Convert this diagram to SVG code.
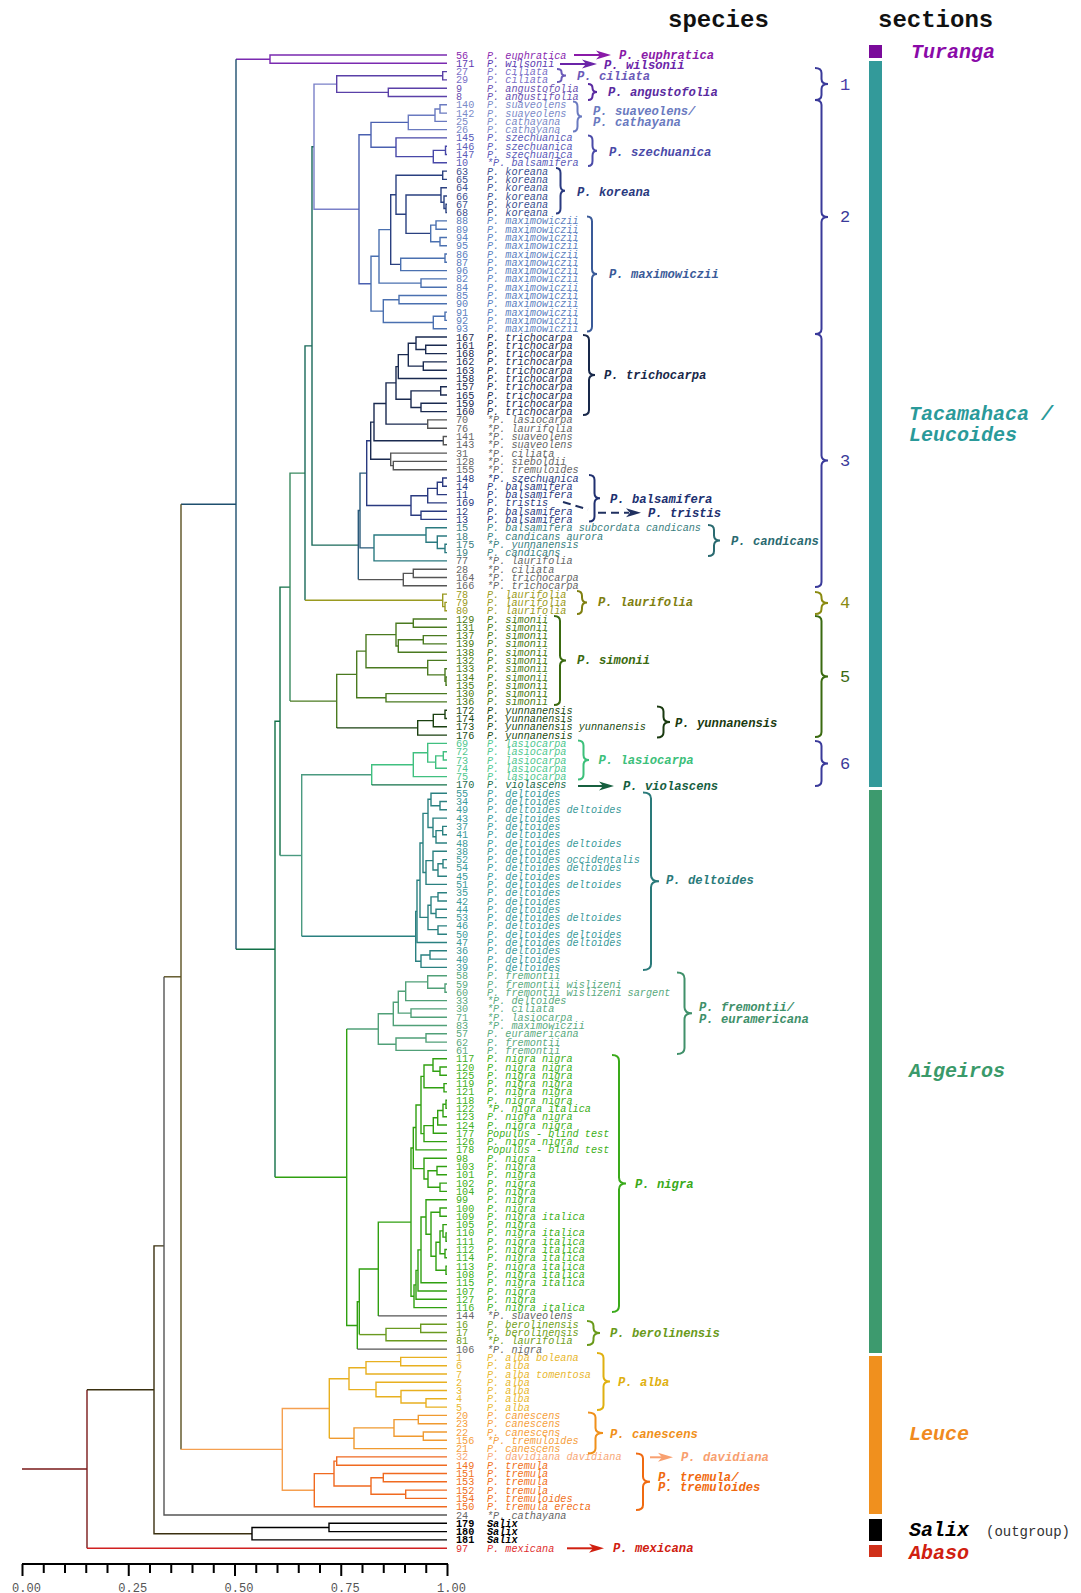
<svg xmlns="http://www.w3.org/2000/svg" width="1081" height="1593" viewBox="0 0 1081 1593">
<style>
.tree path{fill:none;stroke-width:1.4}
.k-pur{stroke:#7a2ab0}.k-vio{stroke:#5a40a8}.k-lav{stroke:#6a7ac0}.k-lm{stroke:#7a80c8}.k-blu{stroke:#4a60b0}.k-sze{stroke:#4848a8}
.k-kor{stroke:#2a4080}.k-max{stroke:#4a70b0}.k-nav{stroke:#1a2a50}.k-bal{stroke:#2a3a80}.k-gry{stroke:#555}.k-cnd{stroke:#2a7a80}
.k-tea{stroke:#1a6a5a}.k-olv{stroke:#9a9a20}.k-sim{stroke:#4a7a20}.k-yun{stroke:#1a4010}.k-las{stroke:#40c080}.k-lv2{stroke:#4a9a80}
.k-del{stroke:#2a8080}.k-fre{stroke:#50a078}.k-nig{stroke:#30a010}.k-ber{stroke:#6a9a20}.k-alb{stroke:#e8b020}.k-can{stroke:#f09a30}
.k-tre{stroke:#f06a20}.k-org{stroke:#f5a050}.k-blk{stroke:#000}.k-red{stroke:#d02020}.k-drd{stroke:#7a1a1a}.k-dol{stroke:#5a5020}
.k-dk{stroke:#3a3010}.k-tb{stroke:#1e4f6e}.k-grn{stroke:#127048}.k-sg{stroke:#3a8a60}.k-bt{stroke:#2a5a7a}
.lab text{font-family:"Liberation Mono",monospace;font-size:10.2px;font-style:italic}
.lab .n{font-style:normal}
.a1{fill:#8a2ab0}.a2{fill:#5a3ab0}.a3{fill:#7a70c8}.a4{fill:#6a50b0}.a5{fill:#7a8ac8}.a6{fill:#5a5ab8}.a7{fill:#3a5090}.a8{fill:#5a80c0}.a9{fill:#1a2a50}
.gy{fill:#666}.b1{fill:#2a3a80}.b2{fill:#3a8080}.b3{fill:#9a9a20}.b4{fill:#4a7a10}.b5{fill:#1a4a10}.b6{fill:#50c890}.b7{fill:#1a6a4a}.b8{fill:#3a9a9a}.b9{fill:#5aaa80}
.c1{fill:#40b020}.c2{fill:#70a020}.c3{fill:#e8b830}.c4{fill:#f5a040}.c5{fill:#f8a878}.c6{fill:#f07020}.c7{fill:#000;font-weight:bold}.c8{fill:#e03030}
.sp text{font-family:"Liberation Mono",monospace;font-size:12.2px;font-weight:bold;font-style:italic}
.br{fill:none;stroke-width:2}
.arr line,.arr path{stroke-width:2;fill:none}
.sec{font-family:"Liberation Mono",monospace;font-size:20px;font-weight:bold;font-style:italic}
.hd{font-family:"Liberation Mono",monospace;font-size:24px;font-weight:bold;fill:#111}
.gn{font-family:"Liberation Mono",monospace;font-size:17px}
.ax{font-family:"Liberation Mono",monospace;font-size:12px;fill:#555;text-anchor:middle}
</style>
<rect width="1081" height="1593" fill="#fff"/>

<g id="headers">
<text class="hd" x="668" y="27">species</text>
<text class="hd" x="878" y="27">sections</text>
</g>

<g id="connectors" class="tree">
<path class="k-drd" d="M22,1469 H87 M87,1389.8 V1548.2"/>
<path class="k-red" d="M87,1548.2 H447"/>
<path class="k-dk" d="M154,1389.8 H87"/>
<path class="k-dk" d="M164,1245.9 H154 V1533.7 H252"/>
<path class="k-blk" d="M329,1527.5 H252 V1539.9 H447"/>
<path class="k-blk" d="M447,1523.3 H329 V1531.6 H447"/>
<path class="k-dol" d="M181,976.8 H164"/>
<path class="k-gry" d="M164,976.8 V1515 H447"/>
<path class="k-tb" d="M236,504.2 H181"/>
<path class="k-dol" d="M181,504.2 V1449.4"/>
<path class="k-org" d="M181,1449.4 H282.3"/>
<path class="k-pur" d="M270,59.2 H236"/>
<path class="k-tb" d="M236,59.2 V949.3"/>
<path class="k-grn" d="M236,949.3 H275"/>
<path class="k-pur" d="M447,55 H270 V63.3 H447"/>
<path class="k-grn" d="M280,721.3 H275 V1177.2"/>
<path class="k-nig" d="M275,1177.2 H346.7"/>
<path class="k-grn" d="M290,587.1 H280 V855.5"/>
<path class="k-lv2" d="M280,855.5 H301.7"/>
<path class="k-sg" d="M305,473.1 H290 V701.1"/>
<path class="k-sim" d="M290,701.1 H336.7"/>
<path class="k-tea" d="M312,345.9 H305 V600.3"/>
<path class="k-olv" d="M305,600.3 H442.7"/>
<path class="k-tea" d="M314,146.7 H312 V545.1 H358.3"/>
<path class="k-lm" d="M336.7,84.1 H314 V209.3 H359"/>
<path class="k-vio" d="M442.7,75.8 H336.7 V92.4 H388.3"/>
<path class="k-vio" d="M447,71.6 H442.7 V79.9 H447"/>
<path class="k-vio" d="M447,88.2 H388.3 V96.5 H447"/>
<path class="k-blu" d="M371,134.8 H359 V283.7 H371"/>
<path class="k-blu" d="M408.3,122.4 H371 V147.3 H396"/>
<path class="k-lav" d="M435,115.2 H408.3 V129.6 H447"/>
<path class="k-lav" d="M440,109 H435 V121.4 H447"/>
<path class="k-lav" d="M447,104.8 H440 V113.1 H447"/>
<path class="k-sze" d="M447,137.9 H396 V156.6 H433.3"/>
<path class="k-sze" d="M445.5,150.4 H433.3 V162.8 H447"/>
<path class="k-sze" d="M447,146.2 H445.5 V154.5 H447"/>
<path class="k-max" d="M379,256.3 H371 V311.1 H383.3"/>
<path class="k-max" d="M390.7,229.6 H379 V283.1 H421"/>
<path class="k-max" d="M447,278.9 H421 V287.2 H447"/>
<path class="k-kor" d="M396,194.7 H390.7 V264.4 H400.7"/>
<path class="k-kor" d="M442.7,175.3 H396 V214.2 H406"/>
<path class="k-kor" d="M447,171.1 H442.7 V179.4 H447"/>
<path class="k-kor" d="M441,195 H406 V233.4 H430.7"/>
<path class="k-kor" d="M447,187.7 H441 V202.2 H444"/>
<path class="k-kor" d="M447,196 H444 V208.5 H446"/>
<path class="k-kor" d="M447,204.3 H446 V212.6 H447"/>
<path class="k-max" d="M436,225.1 H430.7 V241.7 H440"/>
<path class="k-max" d="M447,220.9 H436 V229.2 H447"/>
<path class="k-max" d="M447,237.5 H440 V245.8 H447"/>
<path class="k-max" d="M445,258.2 H400.7 V270.6 H447"/>
<path class="k-max" d="M447,254 H445 V262.3 H447"/>
<path class="k-max" d="M399,299.7 H383.3 V322.5 H433.3"/>
<path class="k-max" d="M447,295.5 H399 V303.8 H447"/>
<path class="k-max" d="M445,316.3 H433.3 V328.7 H447"/>
<path class="k-max" d="M447,312.1 H445 V320.4 H447"/>
<path class="k-bt" d="M360,510.5 H358.3 V579.6"/>
<path class="k-gry" d="M358.3,579.6 H403.3"/>
<path class="k-bt" d="M366.7,473.1 H360 V547.9 H374"/>
<path class="k-bal" d="M370.7,440.7 H366.7 V505.5 H411"/>
<path class="k-nav" d="M374,422.1 H370.7 V459.3 H390.7"/>
<path class="k-nav" d="M386,403.5 H374 V440.7 H443.3"/>
<path class="k-gry" d="M447,436.5 H443.3 V444.8 H447"/>
<path class="k-gry" d="M447,453.1 H390.7 V465.6 H393.3"/>
<path class="k-gry" d="M447,461.4 H393.3 V469.7 H447"/>
<path class="k-nav" d="M396,382.9 H386 V424.1 H427.7"/>
<path class="k-gry" d="M447,419.9 H427.7 V428.2 H447"/>
<path class="k-nav" d="M398.3,366.6 H396 V399.2 H411"/>
<path class="k-nav" d="M440.7,390.9 H411 V407.5 H421"/>
<path class="k-nav" d="M447,386.8 H440.7 V395 H447"/>
<path class="k-nav" d="M447,403.3 H421 V411.6 H447"/>
<path class="k-nav" d="M408.3,354.6 H398.3 V378.5 H447"/>
<path class="k-nav" d="M416,343.2 H408.3 V366.1 H423.3"/>
<path class="k-nav" d="M447,337 H416 V349.5 H425.7"/>
<path class="k-nav" d="M447,345.3 H425.7 V353.6 H447"/>
<path class="k-nav" d="M447,361.9 H423.3 V370.2 H447"/>
<path class="k-bal" d="M427.7,495.7 H411 V515.3 H421"/>
<path class="k-bal" d="M437.3,488.4 H427.7 V502.9 H447"/>
<path class="k-bal" d="M442.7,482.2 H437.3 V494.6 H447"/>
<path class="k-bal" d="M447,478 H442.7 V486.3 H447"/>
<path class="k-bal" d="M447,511.2 H421 V519.4 H447"/>
<path class="k-cnd" d="M426,535 H374 V560.9 H447"/>
<path class="k-cnd" d="M447,527.7 H426 V542.2 H437.3"/>
<path class="k-cnd" d="M447,536 H437.3 V548.5 H445"/>
<path class="k-cnd" d="M447,544.3 H445 V552.6 H447"/>
<path class="k-gry" d="M413.3,573.4 H403.3 V585.8 H447"/>
<path class="k-gry" d="M447,569.2 H413.3 V577.5 H447"/>
<path class="k-olv" d="M447,594.1 H442.7 V606.6 H445"/>
<path class="k-olv" d="M447,602.4 H445 V610.7 H447"/>
<path class="k-sim" d="M356.7,674.4 H336.7 V727.9"/>
<path class="k-yun" d="M336.7,727.9 H417.7"/>
<path class="k-sim" d="M366,651.1 H356.7 V697.8 H386"/>
<path class="k-sim" d="M396,634.6 H366 V667.7 H427.7"/>
<path class="k-sim" d="M413.3,623.2 H396 V646 H398.3"/>
<path class="k-sim" d="M447,619 H413.3 V627.3 H447"/>
<path class="k-sim" d="M423.3,639.8 H398.3 V652.2 H447"/>
<path class="k-sim" d="M447,635.6 H423.3 V643.9 H447"/>
<path class="k-sim" d="M447,660.4 H427.7 V674.9 H445"/>
<path class="k-sim" d="M447,668.7 H445 V681.2 H446"/>
<path class="k-sim" d="M447,677 H446 V685.3 H447"/>
<path class="k-sim" d="M447,693.6 H386 V701.9 H447"/>
<path class="k-yun" d="M433.3,720.6 H417.7 V735.1 H447"/>
<path class="k-yun" d="M445,714.4 H433.3 V726.8 H447"/>
<path class="k-yun" d="M447,710.2 H445 V718.5 H447"/>
<path class="k-lv2" d="M371.7,774.8 H301.7 V936.3"/>
<path class="k-del" d="M301.7,936.3 H415.7"/>
<path class="k-las" d="M413.3,764.7 H371.7 V784.9"/>
<path class="k-grn" d="M371.7,784.9 H447"/>
<path class="k-las" d="M427.7,752.8 H413.3 V776.6 H447"/>
<path class="k-las" d="M447,743.4 H427.7 V762.1 H435.7"/>
<path class="k-las" d="M443.3,755.9 H435.7 V768.3 H447"/>
<path class="k-las" d="M447,751.7 H443.3 V760 H447"/>
<path class="k-del" d="M417,911.4 H415.7 V961.2 H421"/>
<path class="k-del" d="M420,880.2 H417 V942.5 H447"/>
<path class="k-del" d="M423,843 H420 V917.4 H428"/>
<path class="k-del" d="M428,813.4 H423 V872.5 H426"/>
<path class="k-del" d="M431,799.3 H428 V827.5 H433"/>
<path class="k-del" d="M447,793.2 H431 V805.7 H440"/>
<path class="k-del" d="M447,801.5 H440 V809.8 H447"/>
<path class="k-del" d="M447,818.1 H433 V836.8 H436"/>
<path class="k-del" d="M442.7,830.6 H436 V843 H447"/>
<path class="k-del" d="M447,826.4 H442.7 V834.7 H447"/>
<path class="k-del" d="M433,860.6 H426 V884.4 H447"/>
<path class="k-del" d="M447,851.3 H433 V870 H438"/>
<path class="k-del" d="M443,863.8 H438 V876.2 H447"/>
<path class="k-del" d="M447,859.6 H443 V867.9 H447"/>
<path class="k-del" d="M431,905.2 H428 V929.6 H438"/>
<path class="k-del" d="M438,896.9 H431 V913.5 H436"/>
<path class="k-del" d="M447,892.7 H438 V901 H447"/>
<path class="k-del" d="M447,909.3 H436 V917.6 H447"/>
<path class="k-del" d="M447,925.9 H438 V934.2 H447"/>
<path class="k-del" d="M430,955 H421 V967.4 H447"/>
<path class="k-del" d="M447,950.8 H430 V959.1 H447"/>
<path class="k-fre" d="M378.3,1029 H346.7"/>
<path class="k-nig" d="M346.7,1029 V1325.5 H357.3"/>
<path class="k-fre" d="M393.3,1013.8 H378.3 V1044.2 H396"/>
<path class="k-fre" d="M398.3,1002.2 H393.3 V1025.5 H447"/>
<path class="k-fre" d="M405.7,991.3 H398.3 V1013.1 H411"/>
<path class="k-fre" d="M427.7,981.9 H405.7 V1000.6 H447"/>
<path class="k-fre" d="M447,975.7 H427.7 V988.2 H445"/>
<path class="k-fre" d="M447,984 H445 V992.3 H447"/>
<path class="k-fre" d="M447,1008.9 H411 V1017.2 H447"/>
<path class="k-fre" d="M426,1038 H396 V1050.4 H447"/>
<path class="k-fre" d="M447,1033.8 H426 V1042.1 H447"/>
<path class="k-nig" d="M359.3,1301.8 H357.3 V1349.1"/>
<path class="k-gry" d="M357.3,1349.1 H447"/>
<path class="k-nig" d="M378.3,1269 H359.3 V1334.6"/>
<path class="k-ber" d="M359.3,1334.6 H386"/>
<path class="k-nig" d="M411,1222.1 H378.3 V1315.9"/>
<path class="k-gry" d="M378.3,1315.9 H447"/>
<path class="k-ber" d="M420.7,1328.4 H386 V1340.8 H447"/>
<path class="k-ber" d="M447,1324.2 H420.7 V1332.5 H447"/>
<path class="k-nig" d="M413.3,1148 H411 V1296.2 H414"/>
<path class="k-nig" d="M416,1127.5 H413.3 V1168.6 H424"/>
<path class="k-nig" d="M421,1105 H416 V1149.9 H447"/>
<path class="k-nig" d="M424,1076.4 H421 V1133.6 H424"/>
<path class="k-nig" d="M433,1065 H424 V1087.8 H444"/>
<path class="k-nig" d="M447,1058.7 H433 V1071.2 H440"/>
<path class="k-nig" d="M447,1067 H440 V1075.3 H447"/>
<path class="k-nig" d="M447,1083.6 H444 V1091.9 H447"/>
<path class="k-nig" d="M433.3,1125.6 H424 V1141.6 H447"/>
<path class="k-nig" d="M437.7,1117.8 H433.3 V1133.3 H447"/>
<path class="k-nig" d="M443,1110.5 H437.7 V1125 H447"/>
<path class="k-nig" d="M446,1104.3 H443 V1116.7 H447"/>
<path class="k-nig" d="M447,1100.2 H446 V1108.4 H447"/>
<path class="k-nig" d="M447,1158.2 H424 V1179 H428"/>
<path class="k-nig" d="M437,1170.7 H428 V1187.3 H440"/>
<path class="k-nig" d="M447,1166.5 H437 V1174.8 H447"/>
<path class="k-nig" d="M447,1183.1 H440 V1191.4 H447"/>
<path class="k-nig" d="M416,1284.9 H414 V1307.6 H447"/>
<path class="k-nig" d="M418,1270.4 H416 V1299.3 H447"/>
<path class="k-nig" d="M421,1249.9 H418 V1291 H447"/>
<path class="k-nig" d="M426,1217 H421 V1282.7 H447"/>
<path class="k-nig" d="M447,1199.7 H426 V1234.3 H431"/>
<path class="k-nig" d="M440,1212.2 H431 V1256.3 H436"/>
<path class="k-nig" d="M447,1208 H440 V1216.3 H447"/>
<path class="k-nig" d="M440,1242.3 H436 V1270.3 H446"/>
<path class="k-nig" d="M443,1230.9 H440 V1253.7 H445"/>
<path class="k-nig" d="M447,1224.6 H443 V1237.1 H446"/>
<path class="k-nig" d="M447,1232.9 H446 V1241.2 H447"/>
<path class="k-nig" d="M447,1249.5 H445 V1257.8 H447"/>
<path class="k-nig" d="M447,1266.1 H446 V1274.4 H447"/>
<path class="k-org" d="M329.3,1408.5 H282.3 V1490.2 H314.3"/>
<path class="k-alb" d="M349,1378.7 H329.3 V1438.3"/>
<path class="k-can" d="M329.3,1438.3 H354"/>
<path class="k-alb" d="M366,1367.8 H349 V1389.6 H376"/>
<path class="k-alb" d="M400.7,1361.6 H366 V1374 H447"/>
<path class="k-alb" d="M447,1357.4 H400.7 V1365.7 H447"/>
<path class="k-alb" d="M447,1382.3 H376 V1396.8 H401"/>
<path class="k-alb" d="M447,1390.5 H401 V1403 H426"/>
<path class="k-alb" d="M447,1398.8 H426 V1407.1 H447"/>
<path class="k-can" d="M394,1427.9 H354 V1448.6 H447"/>
<path class="k-can" d="M418.3,1419.6 H394 V1436.2 H423.3"/>
<path class="k-can" d="M447,1415.4 H418.3 V1423.7 H447"/>
<path class="k-can" d="M447,1432 H423.3 V1440.3 H447"/>
<path class="k-tre" d="M334,1473.6 H314.3 V1506.7 H447"/>
<path class="k-tre" d="M336.7,1461.1 H334 V1486 H371"/>
<path class="k-tre" d="M447,1456.9 H336.7 V1465.2 H447"/>
<path class="k-tre" d="M383.3,1477.7 H371 V1494.3 H405.7"/>
<path class="k-tre" d="M447,1473.5 H383.3 V1481.8 H447"/>
<path class="k-tre" d="M447,1490.1 H405.7 V1498.4 H447"/>
</g>

<g id="leaves" class="lab">
<g class="a1"><text y="58.5"><tspan class="n" x="456">56</tspan><tspan x="487">P. euphratica</tspan></text></g>
<g class="a2"><text y="66.8"><tspan class="n" x="456">171</tspan><tspan x="487">P. wilsonii</tspan></text></g>
<g class="a3">
<text y="75.1"><tspan class="n" x="456">27</tspan><tspan x="487">P. ciliata</tspan></text>
<text y="83.4"><tspan class="n" x="456">29</tspan><tspan x="487">P. ciliata</tspan></text>
</g>
<g class="a4">
<text y="91.7"><tspan class="n" x="456">9</tspan><tspan x="487">P. angustofolia</tspan></text>
<text y="100"><tspan class="n" x="456">8</tspan><tspan x="487">P. angustifolia</tspan></text>
</g>
<g class="a5">
<text y="108.3"><tspan class="n" x="456">140</tspan><tspan x="487">P. suaveolens</tspan></text>
<text y="116.6"><tspan class="n" x="456">142</tspan><tspan x="487">P. suaveolens</tspan></text>
<text y="124.9"><tspan class="n" x="456">25</tspan><tspan x="487">P. cathayana</tspan></text>
<text y="133.1"><tspan class="n" x="456">26</tspan><tspan x="487">P. cathayana</tspan></text>
</g>
<g class="a6">
<text y="141.4"><tspan class="n" x="456">145</tspan><tspan x="487">P. szechuanica</tspan></text>
<text y="149.7"><tspan class="n" x="456">146</tspan><tspan x="487">P. szechuanica</tspan></text>
<text y="158"><tspan class="n" x="456">147</tspan><tspan x="487">P. szechuanica</tspan></text>
<text y="166.3"><tspan class="n" x="456">10</tspan><tspan x="487">*P. balsamifera</tspan></text>
</g>
<g class="a7">
<text y="174.6"><tspan class="n" x="456">63</tspan><tspan x="487">P. koreana</tspan></text>
<text y="182.9"><tspan class="n" x="456">65</tspan><tspan x="487">P. koreana</tspan></text>
<text y="191.2"><tspan class="n" x="456">64</tspan><tspan x="487">P. koreana</tspan></text>
<text y="199.5"><tspan class="n" x="456">66</tspan><tspan x="487">P. koreana</tspan></text>
<text y="207.8"><tspan class="n" x="456">67</tspan><tspan x="487">P. koreana</tspan></text>
<text y="216.1"><tspan class="n" x="456">68</tspan><tspan x="487">P. koreana</tspan></text>
</g>
<g class="a8">
<text y="224.4"><tspan class="n" x="456">88</tspan><tspan x="487">P. maximowiczii</tspan></text>
<text y="232.7"><tspan class="n" x="456">89</tspan><tspan x="487">P. maximowiczii</tspan></text>
<text y="241"><tspan class="n" x="456">94</tspan><tspan x="487">P. maximowiczii</tspan></text>
<text y="249.3"><tspan class="n" x="456">95</tspan><tspan x="487">P. maximowiczii</tspan></text>
<text y="257.5"><tspan class="n" x="456">86</tspan><tspan x="487">P. maximowiczii</tspan></text>
<text y="265.8"><tspan class="n" x="456">87</tspan><tspan x="487">P. maximowiczii</tspan></text>
<text y="274.1"><tspan class="n" x="456">96</tspan><tspan x="487">P. maximowiczii</tspan></text>
<text y="282.4"><tspan class="n" x="456">82</tspan><tspan x="487">P. maximowiczii</tspan></text>
<text y="290.7"><tspan class="n" x="456">84</tspan><tspan x="487">P. maximowiczii</tspan></text>
<text y="299"><tspan class="n" x="456">85</tspan><tspan x="487">P. maximowiczii</tspan></text>
<text y="307.3"><tspan class="n" x="456">90</tspan><tspan x="487">P. maximowiczii</tspan></text>
<text y="315.6"><tspan class="n" x="456">91</tspan><tspan x="487">P. maximowiczii</tspan></text>
<text y="323.9"><tspan class="n" x="456">92</tspan><tspan x="487">P. maximowiczii</tspan></text>
<text y="332.2"><tspan class="n" x="456">93</tspan><tspan x="487">P. maximowiczii</tspan></text>
</g>
<g class="a9">
<text y="340.5"><tspan class="n" x="456">167</tspan><tspan x="487">P. trichocarpa</tspan></text>
<text y="348.8"><tspan class="n" x="456">161</tspan><tspan x="487">P. trichocarpa</tspan></text>
<text y="357.1"><tspan class="n" x="456">168</tspan><tspan x="487">P. trichocarpa</tspan></text>
<text y="365.4"><tspan class="n" x="456">162</tspan><tspan x="487">P. trichocarpa</tspan></text>
<text y="373.7"><tspan class="n" x="456">163</tspan><tspan x="487">P. trichocarpa</tspan></text>
<text y="382"><tspan class="n" x="456">158</tspan><tspan x="487">P. trichocarpa</tspan></text>
<text y="390.3"><tspan class="n" x="456">157</tspan><tspan x="487">P. trichocarpa</tspan></text>
<text y="398.5"><tspan class="n" x="456">165</tspan><tspan x="487">P. trichocarpa</tspan></text>
<text y="406.8"><tspan class="n" x="456">159</tspan><tspan x="487">P. trichocarpa</tspan></text>
<text y="415.1"><tspan class="n" x="456">160</tspan><tspan x="487">P. trichocarpa</tspan></text>
</g>
<g class="gy">
<text y="423.4"><tspan class="n" x="456">70</tspan><tspan x="487">*P. lasiocarpa</tspan></text>
<text y="431.7"><tspan class="n" x="456">76</tspan><tspan x="487">*P. laurifolia</tspan></text>
<text y="440"><tspan class="n" x="456">141</tspan><tspan x="487">*P. suaveolens</tspan></text>
<text y="448.3"><tspan class="n" x="456">143</tspan><tspan x="487">*P. suaveolens</tspan></text>
<text y="456.6"><tspan class="n" x="456">31</tspan><tspan x="487">*P. ciliata</tspan></text>
<text y="464.9"><tspan class="n" x="456">128</tspan><tspan x="487">*P. sieboldii</tspan></text>
<text y="473.2"><tspan class="n" x="456">155</tspan><tspan x="487">*P. tremuloides</tspan></text>
</g>
<g class="b1">
<text y="481.5"><tspan class="n" x="456">148</tspan><tspan x="487">*P. szechuanica</tspan></text>
<text y="489.8"><tspan class="n" x="456">14</tspan><tspan x="487">P. balsamifera</tspan></text>
<text y="498.1"><tspan class="n" x="456">11</tspan><tspan x="487">P. balsamifera</tspan></text>
<text y="506.4"><tspan class="n" x="456">169</tspan><tspan x="487">P. tristis</tspan></text>
<text y="514.7"><tspan class="n" x="456">12</tspan><tspan x="487">P. balsamifera</tspan></text>
<text y="522.9"><tspan class="n" x="456">13</tspan><tspan x="487">P. balsamifera</tspan></text>
</g>
<g class="b2">
<text y="531.2"><tspan class="n" x="456">15</tspan><tspan x="487">P. balsamifera subcordata candicans</tspan></text>
<text y="539.5"><tspan class="n" x="456">18</tspan><tspan x="487">P. candicans aurora</tspan></text>
<text y="547.8"><tspan class="n" x="456">175</tspan><tspan x="487">*P. yunnanensis</tspan></text>
<text y="556.1"><tspan class="n" x="456">19</tspan><tspan x="487">P. candicans</tspan></text>
</g>
<g class="gy">
<text y="564.4"><tspan class="n" x="456">77</tspan><tspan x="487">*P. laurifolia</tspan></text>
<text y="572.7"><tspan class="n" x="456">28</tspan><tspan x="487">*P. ciliata</tspan></text>
<text y="581"><tspan class="n" x="456">164</tspan><tspan x="487">*P. trichocarpa</tspan></text>
<text y="589.3"><tspan class="n" x="456">166</tspan><tspan x="487">*P. trichocarpa</tspan></text>
</g>
<g class="b3">
<text y="597.6"><tspan class="n" x="456">78</tspan><tspan x="487">P. laurifolia</tspan></text>
<text y="605.9"><tspan class="n" x="456">79</tspan><tspan x="487">P. laurifolia</tspan></text>
<text y="614.2"><tspan class="n" x="456">80</tspan><tspan x="487">P. laurifolia</tspan></text>
</g>
<g class="b4">
<text y="622.5"><tspan class="n" x="456">129</tspan><tspan x="487">P. simonii</tspan></text>
<text y="630.8"><tspan class="n" x="456">131</tspan><tspan x="487">P. simonii</tspan></text>
<text y="639.1"><tspan class="n" x="456">137</tspan><tspan x="487">P. simonii</tspan></text>
<text y="647.4"><tspan class="n" x="456">139</tspan><tspan x="487">P. simonii</tspan></text>
<text y="655.7"><tspan class="n" x="456">138</tspan><tspan x="487">P. simonii</tspan></text>
<text y="663.9"><tspan class="n" x="456">132</tspan><tspan x="487">P. simonii</tspan></text>
<text y="672.2"><tspan class="n" x="456">133</tspan><tspan x="487">P. simonii</tspan></text>
<text y="680.5"><tspan class="n" x="456">134</tspan><tspan x="487">P. simonii</tspan></text>
<text y="688.8"><tspan class="n" x="456">135</tspan><tspan x="487">P. simonii</tspan></text>
<text y="697.1"><tspan class="n" x="456">130</tspan><tspan x="487">P. simonii</tspan></text>
<text y="705.4"><tspan class="n" x="456">136</tspan><tspan x="487">P. simonii</tspan></text>
</g>
<g class="b5">
<text y="713.7"><tspan class="n" x="456">172</tspan><tspan x="487">P. yunnanensis</tspan></text>
<text y="722"><tspan class="n" x="456">174</tspan><tspan x="487">P. yunnanensis</tspan></text>
<text y="730.3"><tspan class="n" x="456">173</tspan><tspan x="487">P. yunnanensis yunnanensis</tspan></text>
<text y="738.6"><tspan class="n" x="456">176</tspan><tspan x="487">P. yunnanensis</tspan></text>
</g>
<g class="b6">
<text y="746.9"><tspan class="n" x="456">69</tspan><tspan x="487">P. lasiocarpa</tspan></text>
<text y="755.2"><tspan class="n" x="456">72</tspan><tspan x="487">P. lasiocarpa</tspan></text>
<text y="763.5"><tspan class="n" x="456">73</tspan><tspan x="487">P. lasiocarpa</tspan></text>
<text y="771.8"><tspan class="n" x="456">74</tspan><tspan x="487">P. lasiocarpa</tspan></text>
<text y="780.1"><tspan class="n" x="456">75</tspan><tspan x="487">P. lasiocarpa</tspan></text>
</g>
<g class="b7"><text y="788.4"><tspan class="n" x="456">170</tspan><tspan x="487">P. violascens</tspan></text></g>
<g class="b8">
<text y="796.7"><tspan class="n" x="456">55</tspan><tspan x="487">P. deltoides</tspan></text>
<text y="805"><tspan class="n" x="456">34</tspan><tspan x="487">P. deltoides</tspan></text>
<text y="813.3"><tspan class="n" x="456">49</tspan><tspan x="487">P. deltoides deltoides</tspan></text>
<text y="821.6"><tspan class="n" x="456">43</tspan><tspan x="487">P. deltoides</tspan></text>
<text y="829.9"><tspan class="n" x="456">37</tspan><tspan x="487">P. deltoides</tspan></text>
<text y="838.2"><tspan class="n" x="456">41</tspan><tspan x="487">P. deltoides</tspan></text>
<text y="846.5"><tspan class="n" x="456">48</tspan><tspan x="487">P. deltoides deltoides</tspan></text>
<text y="854.8"><tspan class="n" x="456">38</tspan><tspan x="487">P. deltoides</tspan></text>
<text y="863.1"><tspan class="n" x="456">52</tspan><tspan x="487">P. deltoides occidentalis</tspan></text>
<text y="871.4"><tspan class="n" x="456">54</tspan><tspan x="487">P. deltoides deltoides</tspan></text>
<text y="879.7"><tspan class="n" x="456">45</tspan><tspan x="487">P. deltoides</tspan></text>
<text y="887.9"><tspan class="n" x="456">51</tspan><tspan x="487">P. deltoides deltoides</tspan></text>
<text y="896.2"><tspan class="n" x="456">35</tspan><tspan x="487">P. deltoides</tspan></text>
<text y="904.5"><tspan class="n" x="456">42</tspan><tspan x="487">P. deltoides</tspan></text>
<text y="912.8"><tspan class="n" x="456">44</tspan><tspan x="487">P. deltoides</tspan></text>
<text y="921.1"><tspan class="n" x="456">53</tspan><tspan x="487">P. deltoides deltoides</tspan></text>
<text y="929.4"><tspan class="n" x="456">46</tspan><tspan x="487">P. deltoides</tspan></text>
<text y="937.7"><tspan class="n" x="456">50</tspan><tspan x="487">P. deltoides deltoides</tspan></text>
<text y="946"><tspan class="n" x="456">47</tspan><tspan x="487">P. deltoides deltoides</tspan></text>
<text y="954.3"><tspan class="n" x="456">36</tspan><tspan x="487">P. deltoides</tspan></text>
<text y="962.6"><tspan class="n" x="456">40</tspan><tspan x="487">P. deltoides</tspan></text>
<text y="970.9"><tspan class="n" x="456">39</tspan><tspan x="487">P. deltoides</tspan></text>
</g>
<g class="b9">
<text y="979.2"><tspan class="n" x="456">58</tspan><tspan x="487">P. fremontii</tspan></text>
<text y="987.5"><tspan class="n" x="456">59</tspan><tspan x="487">P. fremontii wislizeni</tspan></text>
<text y="995.8"><tspan class="n" x="456">60</tspan><tspan x="487">P. fremontii wislizeni sargent</tspan></text>
<text y="1004.1"><tspan class="n" x="456">33</tspan><tspan x="487">*P. deltoides</tspan></text>
<text y="1012.4"><tspan class="n" x="456">30</tspan><tspan x="487">*P. ciliata</tspan></text>
<text y="1020.7"><tspan class="n" x="456">71</tspan><tspan x="487">*P. lasiocarpa</tspan></text>
<text y="1029"><tspan class="n" x="456">83</tspan><tspan x="487">*P. maximowiczii</tspan></text>
<text y="1037.3"><tspan class="n" x="456">57</tspan><tspan x="487">P. euramericana</tspan></text>
<text y="1045.6"><tspan class="n" x="456">62</tspan><tspan x="487">P. fremontii</tspan></text>
<text y="1053.9"><tspan class="n" x="456">61</tspan><tspan x="487">P. fremontii</tspan></text>
</g>
<g class="c1">
<text y="1062.2"><tspan class="n" x="456">117</tspan><tspan x="487">P. nigra nigra</tspan></text>
<text y="1070.5"><tspan class="n" x="456">120</tspan><tspan x="487">P. nigra nigra</tspan></text>
<text y="1078.8"><tspan class="n" x="456">125</tspan><tspan x="487">P. nigra nigra</tspan></text>
<text y="1087.1"><tspan class="n" x="456">119</tspan><tspan x="487">P. nigra nigra</tspan></text>
<text y="1095.4"><tspan class="n" x="456">121</tspan><tspan x="487">P. nigra nigra</tspan></text>
<text y="1103.7"><tspan class="n" x="456">118</tspan><tspan x="487">P. nigra nigra</tspan></text>
<text y="1111.9"><tspan class="n" x="456">122</tspan><tspan x="487">*P. nigra italica</tspan></text>
<text y="1120.2"><tspan class="n" x="456">123</tspan><tspan x="487">P. nigra nigra</tspan></text>
<text y="1128.5"><tspan class="n" x="456">124</tspan><tspan x="487">P. nigra nigra</tspan></text>
<text y="1136.8"><tspan class="n" x="456">177</tspan><tspan x="487">Populus - blind test</tspan></text>
<text y="1145.1"><tspan class="n" x="456">126</tspan><tspan x="487">P. nigra nigra</tspan></text>
<text y="1153.4"><tspan class="n" x="456">178</tspan><tspan x="487">Populus - blind test</tspan></text>
<text y="1161.7"><tspan class="n" x="456">98</tspan><tspan x="487">P. nigra</tspan></text>
<text y="1170"><tspan class="n" x="456">103</tspan><tspan x="487">P. nigra</tspan></text>
<text y="1178.3"><tspan class="n" x="456">101</tspan><tspan x="487">P. nigra</tspan></text>
<text y="1186.6"><tspan class="n" x="456">102</tspan><tspan x="487">P. nigra</tspan></text>
<text y="1194.9"><tspan class="n" x="456">104</tspan><tspan x="487">P. nigra</tspan></text>
<text y="1203.2"><tspan class="n" x="456">99</tspan><tspan x="487">P. nigra</tspan></text>
<text y="1211.5"><tspan class="n" x="456">100</tspan><tspan x="487">P. nigra</tspan></text>
<text y="1219.8"><tspan class="n" x="456">109</tspan><tspan x="487">P. nigra italica</tspan></text>
<text y="1228.1"><tspan class="n" x="456">105</tspan><tspan x="487">P. nigra</tspan></text>
<text y="1236.4"><tspan class="n" x="456">110</tspan><tspan x="487">P. nigra italica</tspan></text>
<text y="1244.7"><tspan class="n" x="456">111</tspan><tspan x="487">P. nigra italica</tspan></text>
<text y="1253"><tspan class="n" x="456">112</tspan><tspan x="487">P. nigra italica</tspan></text>
<text y="1261.3"><tspan class="n" x="456">114</tspan><tspan x="487">P. nigra italica</tspan></text>
<text y="1269.6"><tspan class="n" x="456">113</tspan><tspan x="487">P. nigra italica</tspan></text>
<text y="1277.9"><tspan class="n" x="456">108</tspan><tspan x="487">P. nigra italica</tspan></text>
<text y="1286.2"><tspan class="n" x="456">115</tspan><tspan x="487">P. nigra italica</tspan></text>
<text y="1294.5"><tspan class="n" x="456">107</tspan><tspan x="487">P. nigra</tspan></text>
<text y="1302.8"><tspan class="n" x="456">127</tspan><tspan x="487">P. nigra</tspan></text>
<text y="1311.1"><tspan class="n" x="456">116</tspan><tspan x="487">P. nigra italica</tspan></text>
</g>
<g class="gy"><text y="1319.4"><tspan class="n" x="456">144</tspan><tspan x="487">*P. suaveolens</tspan></text></g>
<g class="c2">
<text y="1327.7"><tspan class="n" x="456">16</tspan><tspan x="487">P. berolinensis</tspan></text>
<text y="1336"><tspan class="n" x="456">17</tspan><tspan x="487">P. berolinensis</tspan></text>
<text y="1344.3"><tspan class="n" x="456">81</tspan><tspan x="487">*P. laurifolia</tspan></text>
</g>
<g class="gy"><text y="1352.6"><tspan class="n" x="456">106</tspan><tspan x="487">*P. nigra</tspan></text></g>
<g class="c3">
<text y="1360.9"><tspan class="n" x="456">1</tspan><tspan x="487">P. alba boleana</tspan></text>
<text y="1369.2"><tspan class="n" x="456">6</tspan><tspan x="487">P. alba</tspan></text>
<text y="1377.5"><tspan class="n" x="456">7</tspan><tspan x="487">P. alba tomentosa</tspan></text>
<text y="1385.8"><tspan class="n" x="456">2</tspan><tspan x="487">P. alba</tspan></text>
<text y="1394"><tspan class="n" x="456">3</tspan><tspan x="487">P. alba</tspan></text>
<text y="1402.3"><tspan class="n" x="456">4</tspan><tspan x="487">P. alba</tspan></text>
<text y="1410.6"><tspan class="n" x="456">5</tspan><tspan x="487">P. alba</tspan></text>
</g>
<g class="c4">
<text y="1418.9"><tspan class="n" x="456">20</tspan><tspan x="487">P. canescens</tspan></text>
<text y="1427.2"><tspan class="n" x="456">23</tspan><tspan x="487">P. canescens</tspan></text>
<text y="1435.5"><tspan class="n" x="456">22</tspan><tspan x="487">P. canescens</tspan></text>
<text y="1443.8"><tspan class="n" x="456">156</tspan><tspan x="487">*P. tremuloides</tspan></text>
<text y="1452.1"><tspan class="n" x="456">21</tspan><tspan x="487">P. canescens</tspan></text>
</g>
<g class="c5"><text y="1460.4"><tspan class="n" x="456">32</tspan><tspan x="487">P. davidiana davidiana</tspan></text></g>
<g class="c6">
<text y="1468.7"><tspan class="n" x="456">149</tspan><tspan x="487">P. tremula</tspan></text>
<text y="1477"><tspan class="n" x="456">151</tspan><tspan x="487">P. tremula</tspan></text>
<text y="1485.3"><tspan class="n" x="456">153</tspan><tspan x="487">P. tremula</tspan></text>
<text y="1493.6"><tspan class="n" x="456">152</tspan><tspan x="487">P. tremula</tspan></text>
<text y="1501.9"><tspan class="n" x="456">154</tspan><tspan x="487">P. tremuloides</tspan></text>
<text y="1510.2"><tspan class="n" x="456">150</tspan><tspan x="487">P. tremula erecta</tspan></text>
</g>
<g class="gy"><text y="1518.5"><tspan class="n" x="456">24</tspan><tspan x="487">*P. cathayana</tspan></text></g>
<g class="c7">
<text y="1526.8"><tspan class="n" x="456">179</tspan><tspan x="487">Salix</tspan></text>
<text y="1535.1"><tspan class="n" x="456">180</tspan><tspan x="487">Salix</tspan></text>
<text y="1543.4"><tspan class="n" x="456">181</tspan><tspan x="487">Salix</tspan></text>
</g>
<g class="c8"><text y="1551.7"><tspan class="n" x="456">97</tspan><tspan x="487">P. mexicana</tspan></text></g>
</g>

<g id="species-arrows" class="arr">
<line x1="574" y1="55" x2="600" y2="55" stroke="#8a1aa8"/>
<polygon points="611,55 596,50.5 600,55 596,59.5" fill="#8a1aa8"/>
<line x1="560" y1="64" x2="586" y2="64" stroke="#6a24a8"/>
<polygon points="597,64 582,59.5 586,64 582,68.5" fill="#6a24a8"/>
<path d="M563,502 L588,509.5 M598,512.7 H629" stroke="#203060" stroke-dasharray="8,5"/>
<polygon points="641,512.7 626,508.2 630,512.7 626,517.2" fill="#203060"/>
<line x1="578" y1="786" x2="603" y2="786" stroke="#17603f"/>
<polygon points="614,786 599,781.5 603,786 599,790.5" fill="#17603f"/>
<line x1="650" y1="1457.3" x2="662" y2="1457.3" stroke="#f8a070"/>
<polygon points="673,1457.3 658,1452.8 662,1457.3 658,1461.8" fill="#f8a070"/>
<line x1="567" y1="1548.3" x2="593" y2="1548.3" stroke="#d02010"/>
<polygon points="604,1548.3 589,1543.8 593,1548.3 589,1552.8" fill="#d02010"/>
</g>

<g id="species-braces" class="br">
<path stroke="#6a5ab8" d="M557,69 Q561.5,69 561.5,72 V72.5 Q561.5,75.5 566,75.5 Q561.5,75.5 561.5,78.5 V79 Q561.5,82 557,82"/>
<path stroke="#5a2aa0" d="M588,84 Q592.5,84 592.5,88 Q592.5,92 597,92 Q592.5,92 592.5,96 Q592.5,100 588,100"/>
<path stroke="#6a7ac0" d="M573,101.5 Q577.5,101.5 577.5,106.5 V111.5 Q577.5,116.5 582,116.5 Q577.5,116.5 577.5,121.5 V126.5 Q577.5,131.5 573,131.5"/>
<path stroke="#4a4aa8" d="M588,135.5 Q592.5,135.5 592.5,140.5 V145.8 Q592.5,150.8 597,150.8 Q592.5,150.8 592.5,155.8 V161 Q592.5,166 588,166"/>
<path stroke="#2a3a80" d="M556,168 Q560.5,168 560.5,173 V185.8 Q560.5,190.8 565,190.8 Q560.5,190.8 560.5,195.8 V208.5 Q560.5,213.5 556,213.5"/>
<path stroke="#3a5a98" d="M587,216.5 Q592,216.5 592,221.5 V269 Q592,274 597,274 Q592,274 592,279 V326.5 Q592,331.5 587,331.5"/>
<path stroke="#18284a" d="M583,335 Q589,335 589,340 V370 Q589,375 595,375 Q589,375 589,380 V410 Q589,415 583,415"/>
<path stroke="#203070" d="M589,475 Q594.5,475 594.5,480 V493.3 Q594.5,498.3 600,498.3 Q594.5,498.3 594.5,503.3 V516.5 Q594.5,521.5 589,521.5"/>
<path stroke="#2a6a70" d="M708,525 Q714,525 714,530 V535.5 Q714,540.5 720,540.5 Q714,540.5 714,545.5 V551 Q714,556 708,556"/>
<path stroke="#7f7f10" d="M577,591 Q582,591 582,596 V597.5 Q582,602.5 587,602.5 Q582,602.5 582,607.5 V609 Q582,614 577,614"/>
<path stroke="#3a6a10" d="M554,616 Q560,616 560,621 V655.5 Q560,660.5 566,660.5 Q560,660.5 560,665.5 V700 Q560,705 554,705"/>
<path stroke="#1a3a10" d="M657,706.5 Q663.5,706.5 663.5,711.5 V717 Q663.5,722 670,722 Q663.5,722 663.5,727 V732.5 Q663.5,737.5 657,737.5"/>
<path stroke="#3cc07a" d="M578,740.5 Q583.5,740.5 583.5,745.5 V755 Q583.5,760 589,760 Q583.5,760 583.5,765 V774.5 Q583.5,779.5 578,779.5"/>
<path stroke="#2a7a7a" d="M643,792.5 Q651,792.5 651,798.5 V875.3 Q651,881.3 659,881.3 Q651,881.3 651,887.3 V964 Q651,970 643,970"/>
<path stroke="#40906a" d="M677,972.5 Q684.5,972.5 684.5,978.5 V1007.3 Q684.5,1013.3 692,1013.3 Q684.5,1013.3 684.5,1019.3 V1048 Q684.5,1054 677,1054"/>
<path stroke="#3aaa1a" d="M612,1055 Q619,1055 619,1061 V1177.5 Q619,1183.5 626,1183.5 Q619,1183.5 619,1189.5 V1306 Q619,1312 612,1312"/>
<path stroke="#6a9a1a" d="M587,1321 Q593.5,1321 593.5,1326 V1328 Q593.5,1333 600,1333 Q593.5,1333 593.5,1338 V1340 Q593.5,1345 587,1345"/>
<path stroke="#e0b010" d="M597,1353 Q603.5,1353 603.5,1358 V1376.5 Q603.5,1381.5 610,1381.5 Q603.5,1381.5 603.5,1386.5 V1405 Q603.5,1410 597,1410"/>
<path stroke="#f0901a" d="M588,1412.5 Q595.5,1412.5 595.5,1417.5 V1428 Q595.5,1433 603,1433 Q595.5,1433 595.5,1438 V1448.5 Q595.5,1453.5 588,1453.5"/>
<path stroke="#f06a10" d="M636,1453.5 Q643,1453.5 643,1458.5 V1476.8 Q643,1481.8 650,1481.8 Q643,1481.8 643,1486.8 V1505 Q643,1510 636,1510"/>
</g>

<g id="species-names" class="sp">
<text x="619" y="58.5" fill="#8a1aa8">P. euphratica</text>
<text x="604" y="68.5" fill="#6a24a8">P. wilsonii</text>
<text x="577" y="79.5" fill="#6a5ab8">P. ciliata</text>
<text x="608" y="96" fill="#5a2aa0">P. angustofolia</text>
<text x="593" y="114.7" fill="#6a7ac0">P. suaveolens/</text>
<text x="593" y="126.3" fill="#6a7ac0">P. cathayana</text>
<text x="609" y="155.7" fill="#4a4aa8">P. szechuanica</text>
<text x="577" y="195.7" fill="#2a3a80">P. koreana</text>
<text x="609" y="277.5" fill="#3a5a98">P. maximowiczii</text>
<text x="604" y="379" fill="#18284a">P. trichocarpa</text>
<text x="610" y="503.3" fill="#203070">P. balsamifera</text>
<text x="648" y="517.3" fill="#203070">P. tristis</text>
<text x="731" y="544.5" fill="#2a6a70">P. candicans</text>
<text x="598" y="606" fill="#7f7f10">P. laurifolia</text>
<text x="577" y="664" fill="#3a6a10">P. simonii</text>
<text x="675" y="726.5" fill="#1a3a10">P. yunnanensis</text>
<text x="598.5" y="763.5" fill="#3cc07a">P. lasiocarpa</text>
<text x="623" y="790" fill="#17603f">P. violascens</text>
<text x="666" y="884" fill="#2a7a7a">P. deltoides</text>
<text x="699" y="1011" fill="#40906a">P. fremontii/</text>
<text x="699" y="1023" fill="#40906a">P. euramericana</text>
<text x="635" y="1188" fill="#3aaa1a">P. nigra</text>
<text x="610" y="1336.5" fill="#6a9a1a">P. berolinensis</text>
<text x="618" y="1385.7" fill="#e0b010">P. alba</text>
<text x="610" y="1438" fill="#f0901a">P. canescens</text>
<text x="681" y="1461" fill="#f8a070">P. davidiana</text>
<text x="658" y="1480.7" fill="#f06a10">P. tremula/</text>
<text x="658" y="1491.3" fill="#f06a10">P. tremuloides</text>
<text x="613" y="1552.3" fill="#d02010">P. mexicana</text>
</g>

<g id="groups">
<g class="br" stroke="#3a3a9a">
<path d="M815,68 Q821.5,68 821.5,73 V79 Q821.5,84 828,84 Q821.5,84 821.5,89 V95 Q821.5,100 815,100"/>
<path d="M815,100 Q821.5,100 821.5,105 V212 Q821.5,217 828,217 Q821.5,217 821.5,222 V329 Q821.5,334 815,334"/>
<path d="M815,334 Q821.5,334 821.5,339 V455.5 Q821.5,460.5 828,460.5 Q821.5,460.5 821.5,465.5 V582 Q821.5,587 815,587"/>
<path d="M815,741 Q821.5,741 821.5,746 V758.5 Q821.5,763.5 828,763.5 Q821.5,763.5 821.5,768.5 V781 Q821.5,786 815,786"/>
</g>
<path class="br" stroke="#8a8a10" d="M815,592 Q821.5,592 821.5,597 V598 Q821.5,603 828,603 Q821.5,603 821.5,608 V609 Q821.5,614 815,614"/>
<path class="br" stroke="#3a6a10" d="M815,616 Q821.5,616 821.5,621 V671.5 Q821.5,676.5 828,676.5 Q821.5,676.5 821.5,681.5 V732 Q821.5,737 815,737"/>
<text class="gn" x="840" y="90" fill="#4a3aa8">1</text>
<text class="gn" x="840" y="222" fill="#3a3a9a">2</text>
<text class="gn" x="840" y="466" fill="#3a3a9a">3</text>
<text class="gn" x="840" y="608" fill="#8a8a10">4</text>
<text class="gn" x="840" y="682" fill="#3a6a10">5</text>
<text class="gn" x="840" y="769" fill="#3a3a9a">6</text>
</g>

<g id="sections">
<rect x="869" y="45" width="13" height="13" fill="#7a0a9a"/>
<rect x="869" y="61" width="13" height="726" fill="#339a9a"/>
<rect x="869" y="790" width="13" height="563" fill="#3d9a6e"/>
<rect x="869" y="1356" width="13" height="158" fill="#f0901e"/>
<rect x="869" y="1519" width="13" height="22" fill="#000"/>
<rect x="869" y="1545" width="13" height="12" fill="#d0301a"/>
<text class="sec" x="911" y="58" fill="#8a0aa8">Turanga</text>
<text class="sec" x="909" y="420" fill="#2a9a9a">Tacamahaca /</text>
<text class="sec" x="909" y="441" fill="#2a9a9a">Leucoides</text>
<text class="sec" x="909" y="1077" fill="#3a9a6a">Aigeiros</text>
<text class="sec" x="909" y="1440" fill="#f08a20">Leuce</text>
<text class="sec" x="909" y="1536" fill="#000">Salix</text>
<text x="986" y="1536" font-family="Liberation Mono, monospace" font-size="14" fill="#333">(outgroup)</text>
<text class="sec" x="909" y="1558.5" fill="#d02010">Abaso</text>
</g>

<g id="axis">
<path d="M22,1564 H448" stroke="#000" stroke-width="2" fill="none"/>
<path stroke="#000" stroke-width="2" fill="none" d="M22.5,1564 v12 M128.75,1564 v12 M235,1564 v12 M341.25,1564 v12 M447.5,1564 v12 M43.75,1564 v9 M65,1564 v9 M86.25,1564 v9 M107.5,1564 v9 M150,1564 v9 M171.25,1564 v9 M192.5,1564 v9 M213.75,1564 v9 M256.25,1564 v9 M277.5,1564 v9 M298.75,1564 v9 M320,1564 v9 M362.5,1564 v9 M383.75,1564 v9 M405,1564 v9 M426.25,1564 v9"/>
<text class="ax" x="26.5" y="1592">0.00</text>
<text class="ax" x="132.75" y="1592">0.25</text>
<text class="ax" x="239" y="1592">0.50</text>
<text class="ax" x="345.25" y="1592">0.75</text>
<text class="ax" x="451.5" y="1592">1.00</text>
</g>
</svg>
